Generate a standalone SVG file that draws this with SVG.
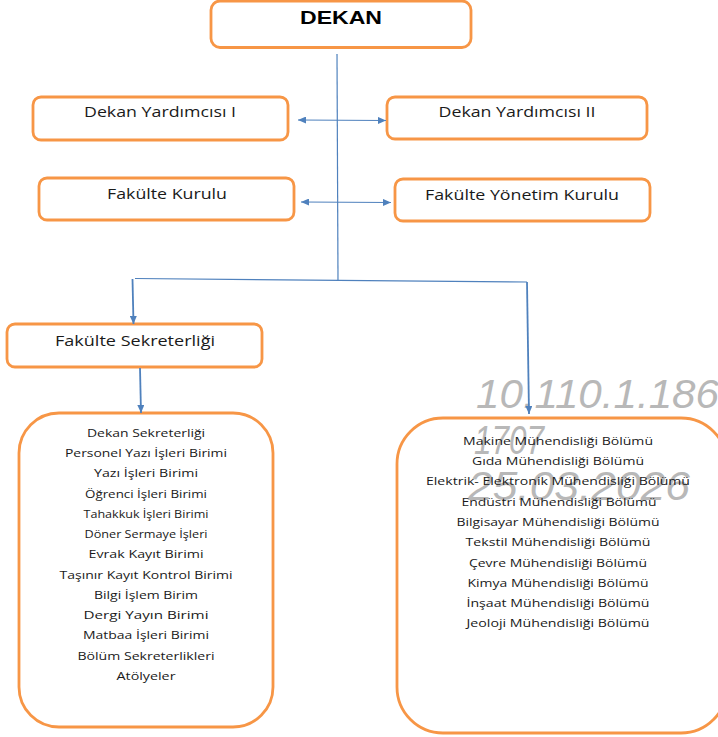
<svg xmlns="http://www.w3.org/2000/svg" width="718" height="737" viewBox="0 0 718 737">
<style>
.b{fill:#fff;stroke:#f79646;stroke-width:2.800}
.t{font-family:"Open Sans","Noto Sans",sans-serif;fill:#1a1a1a;text-anchor:middle}
.h{font-size:14px}
.s{font-size:11.500px}
.c{fill:none;stroke:#4f81bd;stroke-width:1.200}
.d{fill:none;stroke:#4f81bd;stroke-width:1.800}
.w{font-family:"Liberation Sans",sans-serif;font-style:italic;fill:#b8b8b8;font-size:41px}
</style>
<defs>
<marker id="a" markerWidth="9" markerHeight="7" refX="8" refY="3.500" orient="auto-start-reverse" markerUnits="userSpaceOnUse"><path d="M0 0L8 3.500L0 7z" fill="#4f81bd"/></marker>
</defs>
<g id="dekan"><rect class="b" x="211" y="1" width="260" height="46.500" rx="9"/><text x="341" y="24" text-anchor="middle" font-family="Liberation Sans,sans-serif" font-weight="bold" font-size="19" textLength="82" lengthAdjust="spacingAndGlyphs" fill="#000">DEKAN</text></g>
<g id="yard1"><rect class="b" x="33" y="97" width="255" height="43" rx="8"/><text class="t h" x="160" y="117" textLength="152" lengthAdjust="spacingAndGlyphs">Dekan Yardımcısı I</text></g>
<g id="yard2"><rect class="b" x="387" y="97" width="260" height="42" rx="8"/><text class="t h" x="517" y="117" textLength="157" lengthAdjust="spacingAndGlyphs">Dekan Yardımcısı II</text></g>
<g id="fkurul"><rect class="b" x="39" y="178" width="255" height="42" rx="8"/><text class="t h" x="167" y="199" textLength="120" lengthAdjust="spacingAndGlyphs">Fakülte Kurulu</text></g>
<g id="fyonetim"><rect class="b" x="395" y="179" width="255" height="42" rx="8"/><text class="t h" x="522" y="200" textLength="194" lengthAdjust="spacingAndGlyphs">Fakülte Yönetim Kurulu</text></g>
<g id="sekreterlik"><rect class="b" x="7" y="324" width="255" height="43" rx="8"/><text class="t h" x="135" y="346" textLength="160" lengthAdjust="spacingAndGlyphs">Fakülte Sekreterliği</text></g>
<g id="birimler"><rect class="b" x="19" y="413" width="254" height="314" rx="40"/>
<g class="t s">
<text x="146" y="437" textLength="118" lengthAdjust="spacingAndGlyphs">Dekan Sekreterliği</text>
<text x="146" y="457" textLength="162" lengthAdjust="spacingAndGlyphs">Personel Yazı İşleri Birimi</text>
<text x="146" y="477" textLength="104" lengthAdjust="spacingAndGlyphs">Yazı İşleri Birimi</text>
<text x="146" y="498" textLength="122" lengthAdjust="spacingAndGlyphs">Öğrenci İşleri Birimi</text>
<text x="146" y="518" textLength="125" lengthAdjust="spacingAndGlyphs">Tahakkuk İşleri Birimi</text>
<text x="146" y="538" textLength="123" lengthAdjust="spacingAndGlyphs">Döner Sermaye İşleri</text>
<text x="146" y="558" textLength="115" lengthAdjust="spacingAndGlyphs">Evrak Kayıt Birimi</text>
<text x="146" y="579" textLength="173" lengthAdjust="spacingAndGlyphs">Taşınır Kayıt Kontrol Birimi</text>
<text x="146" y="599" textLength="104" lengthAdjust="spacingAndGlyphs">Bilgi İşlem Birim</text>
<text x="146" y="619" textLength="125" lengthAdjust="spacingAndGlyphs">Dergi Yayın Birimi</text>
<text x="146" y="639" textLength="126" lengthAdjust="spacingAndGlyphs">Matbaa İşleri Birimi</text>
<text x="146" y="660" textLength="137" lengthAdjust="spacingAndGlyphs">Bölüm Sekreterlikleri</text>
<text x="146" y="680" textLength="59" lengthAdjust="spacingAndGlyphs">Atölyeler</text>
</g></g>
<g id="bolumler"><rect class="b" x="397" y="418" width="330" height="315" rx="46"/>
<g id="watermark">
<text class="w" x="476" y="408" textLength="243" lengthAdjust="spacingAndGlyphs">10.110.1.186</text>
<text class="w" x="474" y="454" textLength="70" lengthAdjust="spacingAndGlyphs">1707</text>
<text class="w" x="468" y="500" textLength="222" lengthAdjust="spacingAndGlyphs">25.03.2026</text>
</g>
<g class="t s">
<text x="558" y="445" textLength="190" lengthAdjust="spacingAndGlyphs">Makine Mühendisliği Bölümü</text>
<text x="558" y="465" textLength="172" lengthAdjust="spacingAndGlyphs">Gıda Mühendisliği Bölümü</text>
<text x="558" y="485" textLength="264" lengthAdjust="spacingAndGlyphs">Elektrik- Elektronik Mühendisliği Bölümü</text>
<text x="559" y="506" textLength="195" lengthAdjust="spacingAndGlyphs">Endüstri Mühendisliği Bölümü</text>
<text x="558" y="526" textLength="203" lengthAdjust="spacingAndGlyphs">Bilgisayar Mühendisliği Bölümü</text>
<text x="558" y="546" textLength="185" lengthAdjust="spacingAndGlyphs">Tekstil Mühendisliği Bölümü</text>
<text x="558" y="567" textLength="178" lengthAdjust="spacingAndGlyphs">Çevre Mühendisliği Bölümü</text>
<text x="558" y="587" textLength="181" lengthAdjust="spacingAndGlyphs">Kimya Mühendisliği Bölümü</text>
<text x="558" y="607" textLength="183" lengthAdjust="spacingAndGlyphs">İnşaat Mühendisliği Bölümü</text>
<text x="558" y="627" textLength="183" lengthAdjust="spacingAndGlyphs">Jeoloji Mühendisliği Bölümü</text>
</g></g>
<g id="connectors">
<path class="c" d="M337 54L338 280"/>
<path class="c" d="M298 120L386 120.500" marker-start="url(#a)" marker-end="url(#a)"/>
<path class="c" d="M301 202L391 202.500" marker-start="url(#a)" marker-end="url(#a)"/>
<path class="c" d="M135 278.500L527 282"/>
<path class="d" d="M132.500 279L133.500 324" marker-end="url(#a)"/>
<path class="d" d="M527 282L529 414" marker-end="url(#a)"/>
<path class="d" d="M140 368L141 413" marker-end="url(#a)"/>
</g>
</svg>
